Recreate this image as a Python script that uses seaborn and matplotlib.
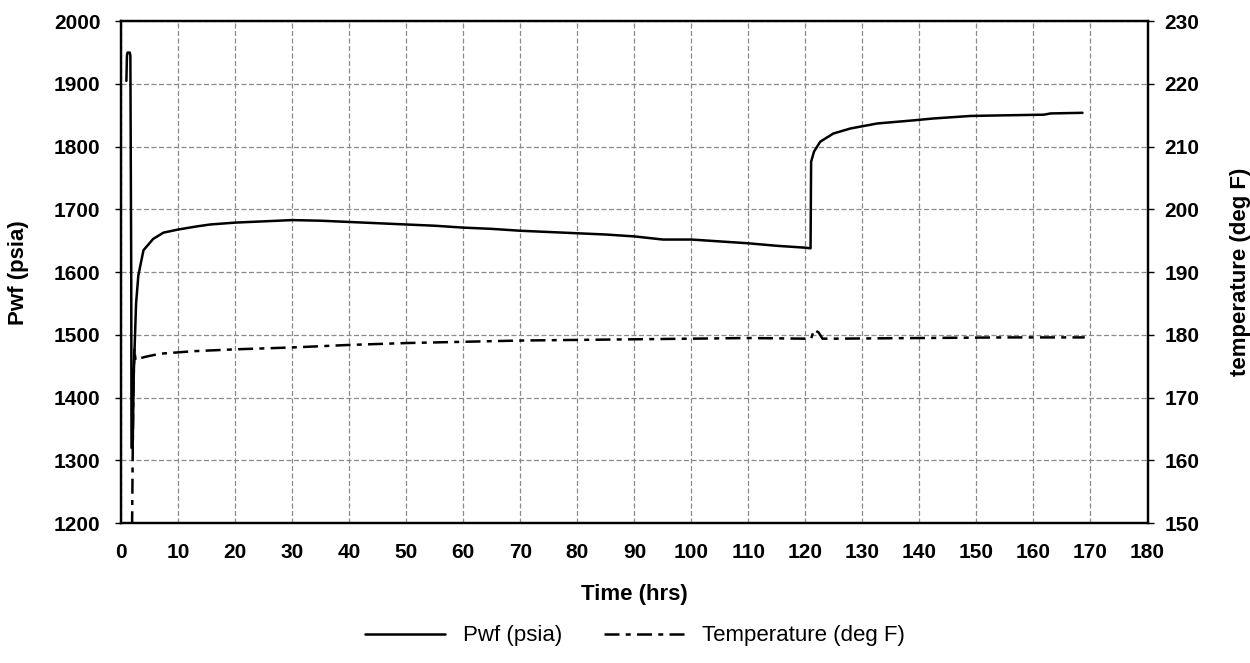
import pandas as pd
import matplotlib
matplotlib.use('Agg')
import matplotlib.pyplot as plt
import seaborn as sns
from matplotlib.lines import Line2D

# Bottom-hole flowing pressure
pwf_time = [0.9, 1.0, 1.1, 1.5, 1.6, 1.75, 1.8, 2.0, 2.2, 2.6, 3.0, 3.9, 5.6, 7.4,
            10, 13.3, 15.6, 20, 25, 30, 35, 40, 45, 50, 55, 60, 65, 70, 75, 80,
            85, 90, 95, 100, 105, 110, 115, 120, 120.9, 121.0, 121.5, 122.6,
            124.9, 127.9, 132.6, 139, 142.5, 149, 155, 161.8, 163, 168.6]
pwf_psia = [1905, 1945, 1950, 1950, 1945, 1600, 1320, 1320, 1440, 1550, 1595, 1635,
            1653, 1663, 1668, 1673, 1676, 1679, 1681, 1683, 1682, 1680, 1678, 1676,
            1674, 1671, 1669, 1666, 1664, 1662, 1660, 1657, 1652, 1652, 1649, 1646,
            1642, 1639, 1638, 1776, 1792, 1808, 1821, 1829, 1837, 1842, 1845, 1849,
            1850, 1851, 1853, 1854]

# Temperature
temp_time = [1.9, 2.0, 2.1, 2.3, 2.5, 3.0, 4.2, 6.8, 12.6, 20, 30, 40, 50, 60, 70,
             80, 90, 100, 110, 120, 121, 121.5, 122.3, 123, 125, 140, 155, 169]
temp_degf = [149.5, 160, 170, 177.8, 176.0, 176.2, 176.5, 177.0, 177.4, 177.7, 178.0,
             178.4, 178.7, 178.9, 179.1, 179.2, 179.3, 179.4, 179.5, 179.4, 179.4,
             180.8, 180.4, 179.4, 179.4, 179.5, 179.6, 179.6]

pwf_df = pd.DataFrame({'time': pwf_time, 'pwf': pwf_psia})
temp_df = pd.DataFrame({'time': temp_time, 'temp': temp_degf})

sns.set_theme(style='white')
plt.rcParams['font.family'] = ['Liberation Sans', 'DejaVu Sans']
plt.rcParams['text.color'] = 'black'
plt.rcParams['axes.labelcolor'] = 'black'

fig = plt.figure(figsize=(12.5, 6.63), dpi=100)
ax = fig.add_axes([0.097, 0.211, 0.821, 0.757])
ax2 = ax.twinx()

dashdot = (0, (6, 2.5, 2, 2.5))
sns.lineplot(data=pwf_df, x='time', y='pwf', ax=ax, color='black', lw=1.8,
             estimator=None, sort=False)
sns.lineplot(data=temp_df, x='time', y='temp', ax=ax2, color='black', lw=1.8,
             linestyle=dashdot, estimator=None, sort=False)

ax.set_xlim(0, 180)
ax.set_ylim(1200, 2000)
ax2.set_ylim(150, 230)
ax.set_xticks(range(0, 181, 10))
ax.set_yticks(range(1200, 2001, 100))
ax2.set_yticks(range(150, 231, 10))

ax.grid(True, color='#8a8a8a', linestyle=(0, (4, 2)), lw=0.9)
for a in (ax, ax2):
    for s in a.spines.values():
        s.set_color('black')
        s.set_linewidth(1.6)
    a.tick_params(direction='out', length=4, width=1, colors='black',
                  labelsize=15)
for lab in ax.get_xticklabels() + ax.get_yticklabels() + ax2.get_yticklabels():
    lab.set_fontweight('bold')
ax.tick_params(axis='x', pad=10)
ax.tick_params(axis='y', pad=11)
ax2.tick_params(axis='y', pad=8, left=False)

ax.set_xlabel('Time (hrs)', fontsize=16, fontweight='bold', labelpad=16)
ax.set_ylabel('Pwf (psia)', fontsize=16, fontweight='bold', labelpad=18)
ax2.set_ylabel('temperature (deg F)', fontsize=16, fontweight='bold', labelpad=22)

handles = [Line2D([], [], color='black', lw=1.8),
           Line2D([], [], color='black', lw=1.8, linestyle=dashdot)]
fig.legend(handles, ['Pwf (psia)', 'Temperature (deg F)'], loc='lower center',
           bbox_to_anchor=(0.508, -0.005), ncol=2, frameon=False, fontsize=16,
           handlelength=3.6, handletextpad=0.8, columnspacing=1.9)

fig.savefig('out.png', dpi=100, facecolor='white')
